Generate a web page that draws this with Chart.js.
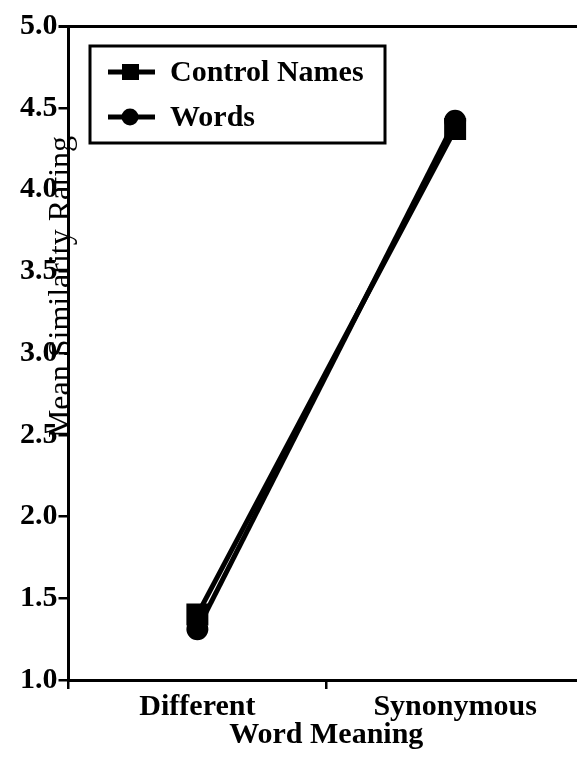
<!DOCTYPE html>
<html>
<head>
<meta charset="utf-8">
<script src="https://cdn.jsdelivr.net/npm/chart.js@4"></script>
<style>
  html, body { margin: 0; padding: 0; background: #fff; overflow: hidden; }
</style>
</head>
<body>
<canvas id="chart" width="601" height="757"></canvas>
<script>
const categories = ["Different", "Synonymous"];
const controlNames = [1.40, 4.37];
const words = [1.31, 4.42];
const yTicks = [1.0, 1.5, 2.0, 2.5, 3.0, 3.5, 4.0, 4.5, 5.0];

const serif = "'Liberation Serif', 'Times New Roman', serif";

// legend drawn inside the plot, line + marker like the original figure
const boxLegend = {
  id: "boxLegend",
  afterDraw(chart) {
    const ctx = chart.ctx;
    ctx.save();
    ctx.strokeStyle = "#000";
    ctx.lineWidth = 3;
    ctx.strokeRect(90, 46, 295, 97);
    const rows = [72, 117];
    chart.data.datasets.forEach((ds, i) => {
      const y = rows[i];
      ctx.lineWidth = 5;
      ctx.beginPath();
      ctx.moveTo(108, y);
      ctx.lineTo(155, y);
      ctx.stroke();
      ctx.fillStyle = "#000";
      if (ds.pointStyle === "rect") {
        ctx.fillRect(122, y - 8, 17, 16);
      } else {
        ctx.beginPath();
        ctx.arc(130, y, 8.5, 0, Math.PI * 2);
        ctx.fill();
      }
      ctx.font = "bold 30px " + serif;
      ctx.textBaseline = "middle";
      ctx.fillText(ds.label, 170, y + 1);
    });
    ctx.restore();
  },
};

// y title sits over the tick labels in the reference
const yTitle = {
  id: "yTitle",
  afterDraw(chart) {
    const ctx = chart.ctx;
    ctx.save();
    ctx.translate(62, 287);
    ctx.rotate(-Math.PI / 2);
    ctx.font = "32px " + serif;
    ctx.fillStyle = "#000";
    ctx.textAlign = "center";
    ctx.textBaseline = "middle";
    ctx.fillText("Mean Similarity Rating", 0, 0);
    ctx.restore();
  },
};

new Chart(document.getElementById("chart"), {
  type: "line",
  data: {
    labels: categories,
    datasets: [
      {
        label: "Control Names",
        data: controlNames,
        borderColor: "#000",
        backgroundColor: "#000",
        borderWidth: 5,
        pointStyle: "rect",
        pointRadius: 12,
      },
      {
        label: "Words",
        data: words,
        borderColor: "#000",
        backgroundColor: "#000",
        borderWidth: 5,
        pointStyle: "circle",
        pointRadius: 8.5,
      },
    ],
  },
  options: {
    responsive: false,
    animation: false,
    layout: {
      padding: { top: 26, right: 6, bottom: 4, left: 19 },
    },
    plugins: {
      legend: { display: false },
      tooltip: { enabled: false },
    },
    scales: {
      x: {
        offset: true,
        grid: {
          offset: true,
          drawOnChartArea: false,
          tickLength: 9,
          tickColor: "#000",
          lineWidth: 2.5,
        },
        border: { color: "#000", width: 3 },
        ticks: {
          color: "#000",
          padding: 0,
          font: { family: serif, size: 30, weight: "bold" },
        },
        title: {
          display: true,
          text: "Word Meaning",
          color: "#000",
          padding: { top: -8, bottom: 0 },
          font: { family: serif, size: 30, weight: "bold" },
        },
      },
      y: {
        min: 1,
        max: 5,
        afterBuildTicks: (scale) => {
          scale.ticks = yTicks.map((v) => ({ value: v }));
        },
        grid: {
          color: (c) => (c.tick && c.tick.value === 5 ? "#000" : "rgba(0,0,0,0)"),
          tickColor: "#000",
          lineWidth: (c) => (c.tick && c.tick.value === 5 ? 3 : 2.5),
          tickLength: 10,
        },
        border: { color: "#000", width: 3 },
        ticks: {
          color: "#000",
          padding: 1,
          font: { family: serif, size: 30, weight: "bold" },
          callback: (v) => Number(v).toFixed(1),
        },
      },
    },
  },
  plugins: [boxLegend, yTitle],
});
</script>
</body>
</html>
